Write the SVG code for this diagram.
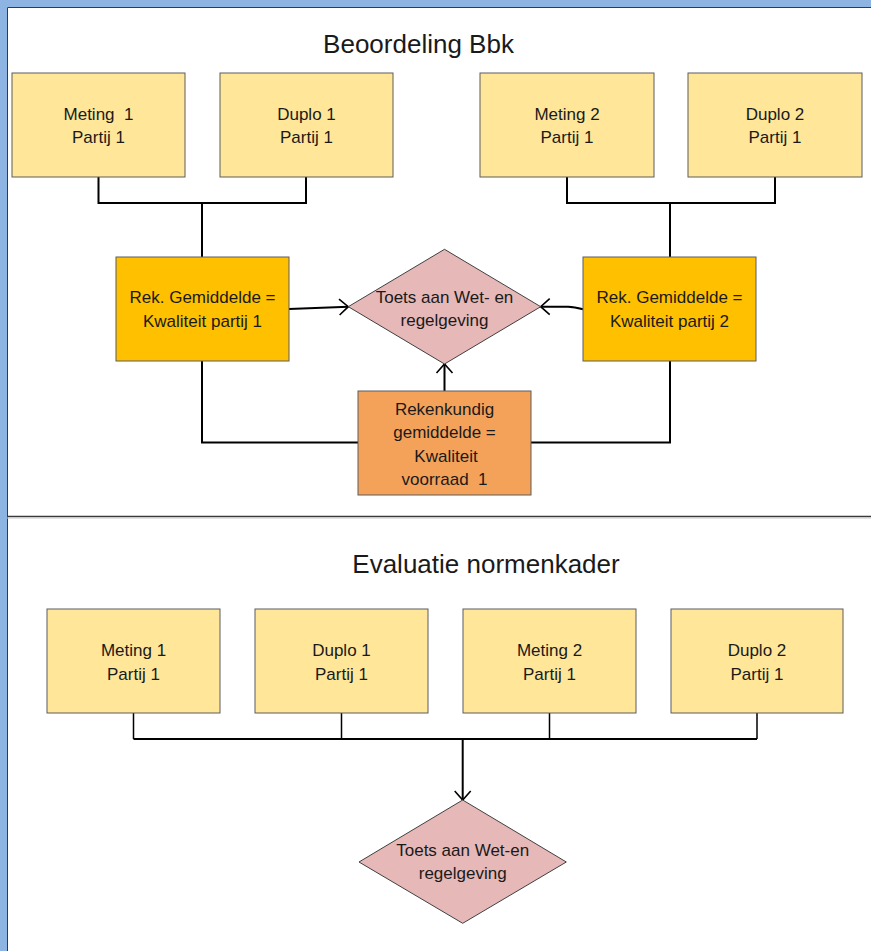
<svg xmlns="http://www.w3.org/2000/svg" width="871" height="951" viewBox="0 0 871 951">
<style>
text{font-family:"Liberation Sans",Arial,sans-serif;fill:#1a1a1a;text-anchor:middle;white-space:pre}
.t{font-size:17px}
.title{font-size:26px}
.m{fill:#FFE699;stroke:#5c5c5c;stroke-width:1}
.r{fill:#FFC000;stroke:#5c5c5c;stroke-width:1}
.o{fill:#F4A25A;stroke:#5c5c5c;stroke-width:1}
.d{fill:#E6B8B7;stroke:#404040;stroke-width:1}
.c{fill:none;stroke:#000;stroke-width:2}
.c1{fill:none;stroke:#000;stroke-width:1.5}
.a{marker-end:url(#arr)}
</style>
<defs>
<marker id="arr" viewBox="-11 -10 13 20" markerUnits="userSpaceOnUse" markerWidth="13" markerHeight="20" refX="0" refY="0" orient="auto" overflow="visible">
<path d="M-9,-8 L0,0 L-9,8" fill="none" stroke="#000" stroke-width="1.6"/>
</marker>
</defs>
<rect x="0" y="0" width="871" height="951" fill="#ffffff"/>
<g id="frame">
<rect x="0" y="0" width="871" height="7" fill="#8DB4E2"/>
<rect x="0" y="0" width="7" height="951" fill="#8DB4E2"/>
<path d="M7.5,951 V7.5 H871" fill="none" stroke="#3a3a3a" stroke-width="1"/>
<line x1="7" y1="516.5" x2="871" y2="516.5" stroke="#3a3a3a" stroke-width="1.5"/>
<line x1="7" y1="518" x2="871" y2="518" stroke="#c8c8c8" stroke-width="1"/>
</g>
<g id="title1"><text class="title" x="418.5" y="53">Beoordeling Bbk</text></g>
<g id="title2"><text class="title" x="486" y="573">Evaluatie normenkader</text></g>

<g id="connectors">
<path class="c" d="M98.5,177 V203 H306 V177"/>
<path class="c" d="M202,203 V257"/>
<path class="c" d="M567,177 V203 H775 V177"/>
<path class="c" d="M670,203 V257"/>
<path class="c a" d="M289,309 L348.3,306.7"/>
<path class="c a" d="M583,309.3 C576,307.2 573,306.7 568,306.7 L540.7,306.7"/>
<path class="c a" d="M444.5,391 V364"/>
<path class="c" d="M202,361 V442.5 H358"/>
<path class="c" d="M531,442.5 H670 V361"/>
<path class="c1" d="M133.5,713 V739 M341.5,713 V739 M549.5,713 V739 M757,713 V739"/>
<path class="c" d="M133.5,739 H757"/>
<path class="c a" d="M462.7,739 V800"/>
</g>

<g id="meting1"><rect class="m" x="12" y="73" width="173" height="104"/><text class="t" x="98.5" y="120">Meting  1</text><text class="t" x="98.5" y="143">Partij 1</text></g>
<g id="duplo1"><rect class="m" x="220" y="73" width="173" height="104"/><text class="t" x="306.5" y="120">Duplo 1</text><text class="t" x="306.5" y="143">Partij 1</text></g>
<g id="meting2"><rect class="m" x="480" y="73" width="174" height="104"/><text class="t" x="567" y="120">Meting 2</text><text class="t" x="567" y="143">Partij 1</text></g>
<g id="duplo2"><rect class="m" x="688" y="73" width="174" height="104"/><text class="t" x="775" y="120">Duplo 2</text><text class="t" x="775" y="143">Partij 1</text></g>

<g id="rek1"><rect class="r" x="116" y="257" width="173" height="104"/><text class="t" x="202.5" y="303">Rek. Gemiddelde =</text><text class="t" x="202.5" y="327">Kwaliteit partij 1</text></g>
<g id="rek2"><rect class="r" x="583" y="257" width="173" height="104"/><text class="t" x="669.5" y="303">Rek. Gemiddelde =</text><text class="t" x="669.5" y="327">Kwaliteit partij 2</text></g>
<g id="toets1"><polygon class="d" points="444.5,249.3 540.7,306.7 444.5,364 348.3,306.7"/><text class="t" x="444.5" y="302.5">Toets aan Wet- en</text><text class="t" x="444.5" y="325.5">regelgeving</text></g>
<g id="rekenkundig"><rect class="o" x="358" y="391" width="173" height="104"/><text class="t" x="444.5" y="415">Rekenkundig</text><text class="t" x="444.5" y="438">gemiddelde =</text><text class="t" x="446" y="461.5">Kwaliteit</text><text class="t" x="444.5" y="484.5">voorraad  1</text></g>

<g id="b_meting1"><rect class="m" x="47" y="609" width="173" height="104"/><text class="t" x="133.5" y="656">Meting 1</text><text class="t" x="133.5" y="679.5">Partij 1</text></g>
<g id="b_duplo1"><rect class="m" x="255" y="609" width="173" height="104"/><text class="t" x="341.5" y="656">Duplo 1</text><text class="t" x="341.5" y="679.5">Partij 1</text></g>
<g id="b_meting2"><rect class="m" x="463" y="609" width="173" height="104"/><text class="t" x="549.5" y="656">Meting 2</text><text class="t" x="549.5" y="679.5">Partij 1</text></g>
<g id="b_duplo2"><rect class="m" x="671" y="609" width="172" height="104"/><text class="t" x="757" y="656">Duplo 2</text><text class="t" x="757" y="679.5">Partij 1</text></g>
<g id="toets2"><polygon class="d" points="462.7,800 566.3,862 462.7,923.3 359,862"/><text class="t" x="462.7" y="856">Toets aan Wet-en</text><text class="t" x="462.7" y="879">regelgeving</text></g>
</svg>
